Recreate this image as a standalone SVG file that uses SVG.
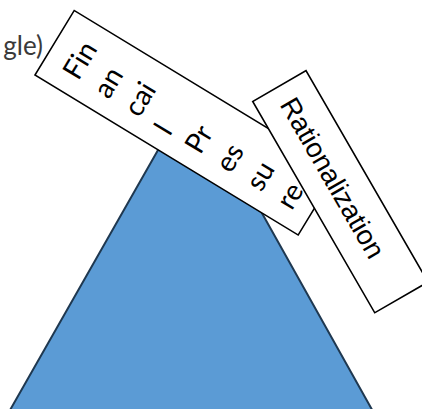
<svg xmlns="http://www.w3.org/2000/svg" width="422" height="409" viewBox="0 0 422 409">
<style>
.box{fill:#ffffff;stroke:#000000;stroke-width:1.6}
.fin{font-family:Lato,"Open Sans",sans-serif;font-size:28px;fill:#000000}
.rat{font-family:"Liberation Sans",Arial,sans-serif;font-size:27.5px;fill:#000000}
.lbl{font-family:Lato,"Open Sans",sans-serif;font-size:26px;fill:#3a3a3a}
</style>
<rect width="422" height="409" fill="#ffffff"/>
<g id="triangle">
<polygon points="192.6,89.2 -7,440 389,440" fill="#5b9bd5" stroke="#1f3850" stroke-width="2"/>
</g>
<g id="title-fragment">
<text class="lbl" x="43" y="55" text-anchor="end">gle)</text>
</g>
<g id="financial-pressure" transform="translate(35,75) rotate(-58.7)">
<rect class="box" x="0" y="0" width="75.5" height="308"/>
<text class="fin" x="17" y="40.3">Fin</text>
<text class="fin" x="17" y="76">an</text>
<text class="fin" x="17" y="111.7">cai</text>
<text class="fin" x="17" y="147.4">l</text>
<text class="fin" x="17" y="183.1">Pr</text>
<text class="fin" x="17" y="218.8">es</text>
<text class="fin" x="17" y="254.5">su</text>
<text class="fin" x="17" y="290.2">re</text>
</g>
<g id="rationalization" transform="translate(306,70.7) rotate(60)">
<rect class="box" x="0" y="0" width="244" height="61.5"/>
<text class="rat" x="16" y="40">Rationalization</text>
</g>
</svg>
